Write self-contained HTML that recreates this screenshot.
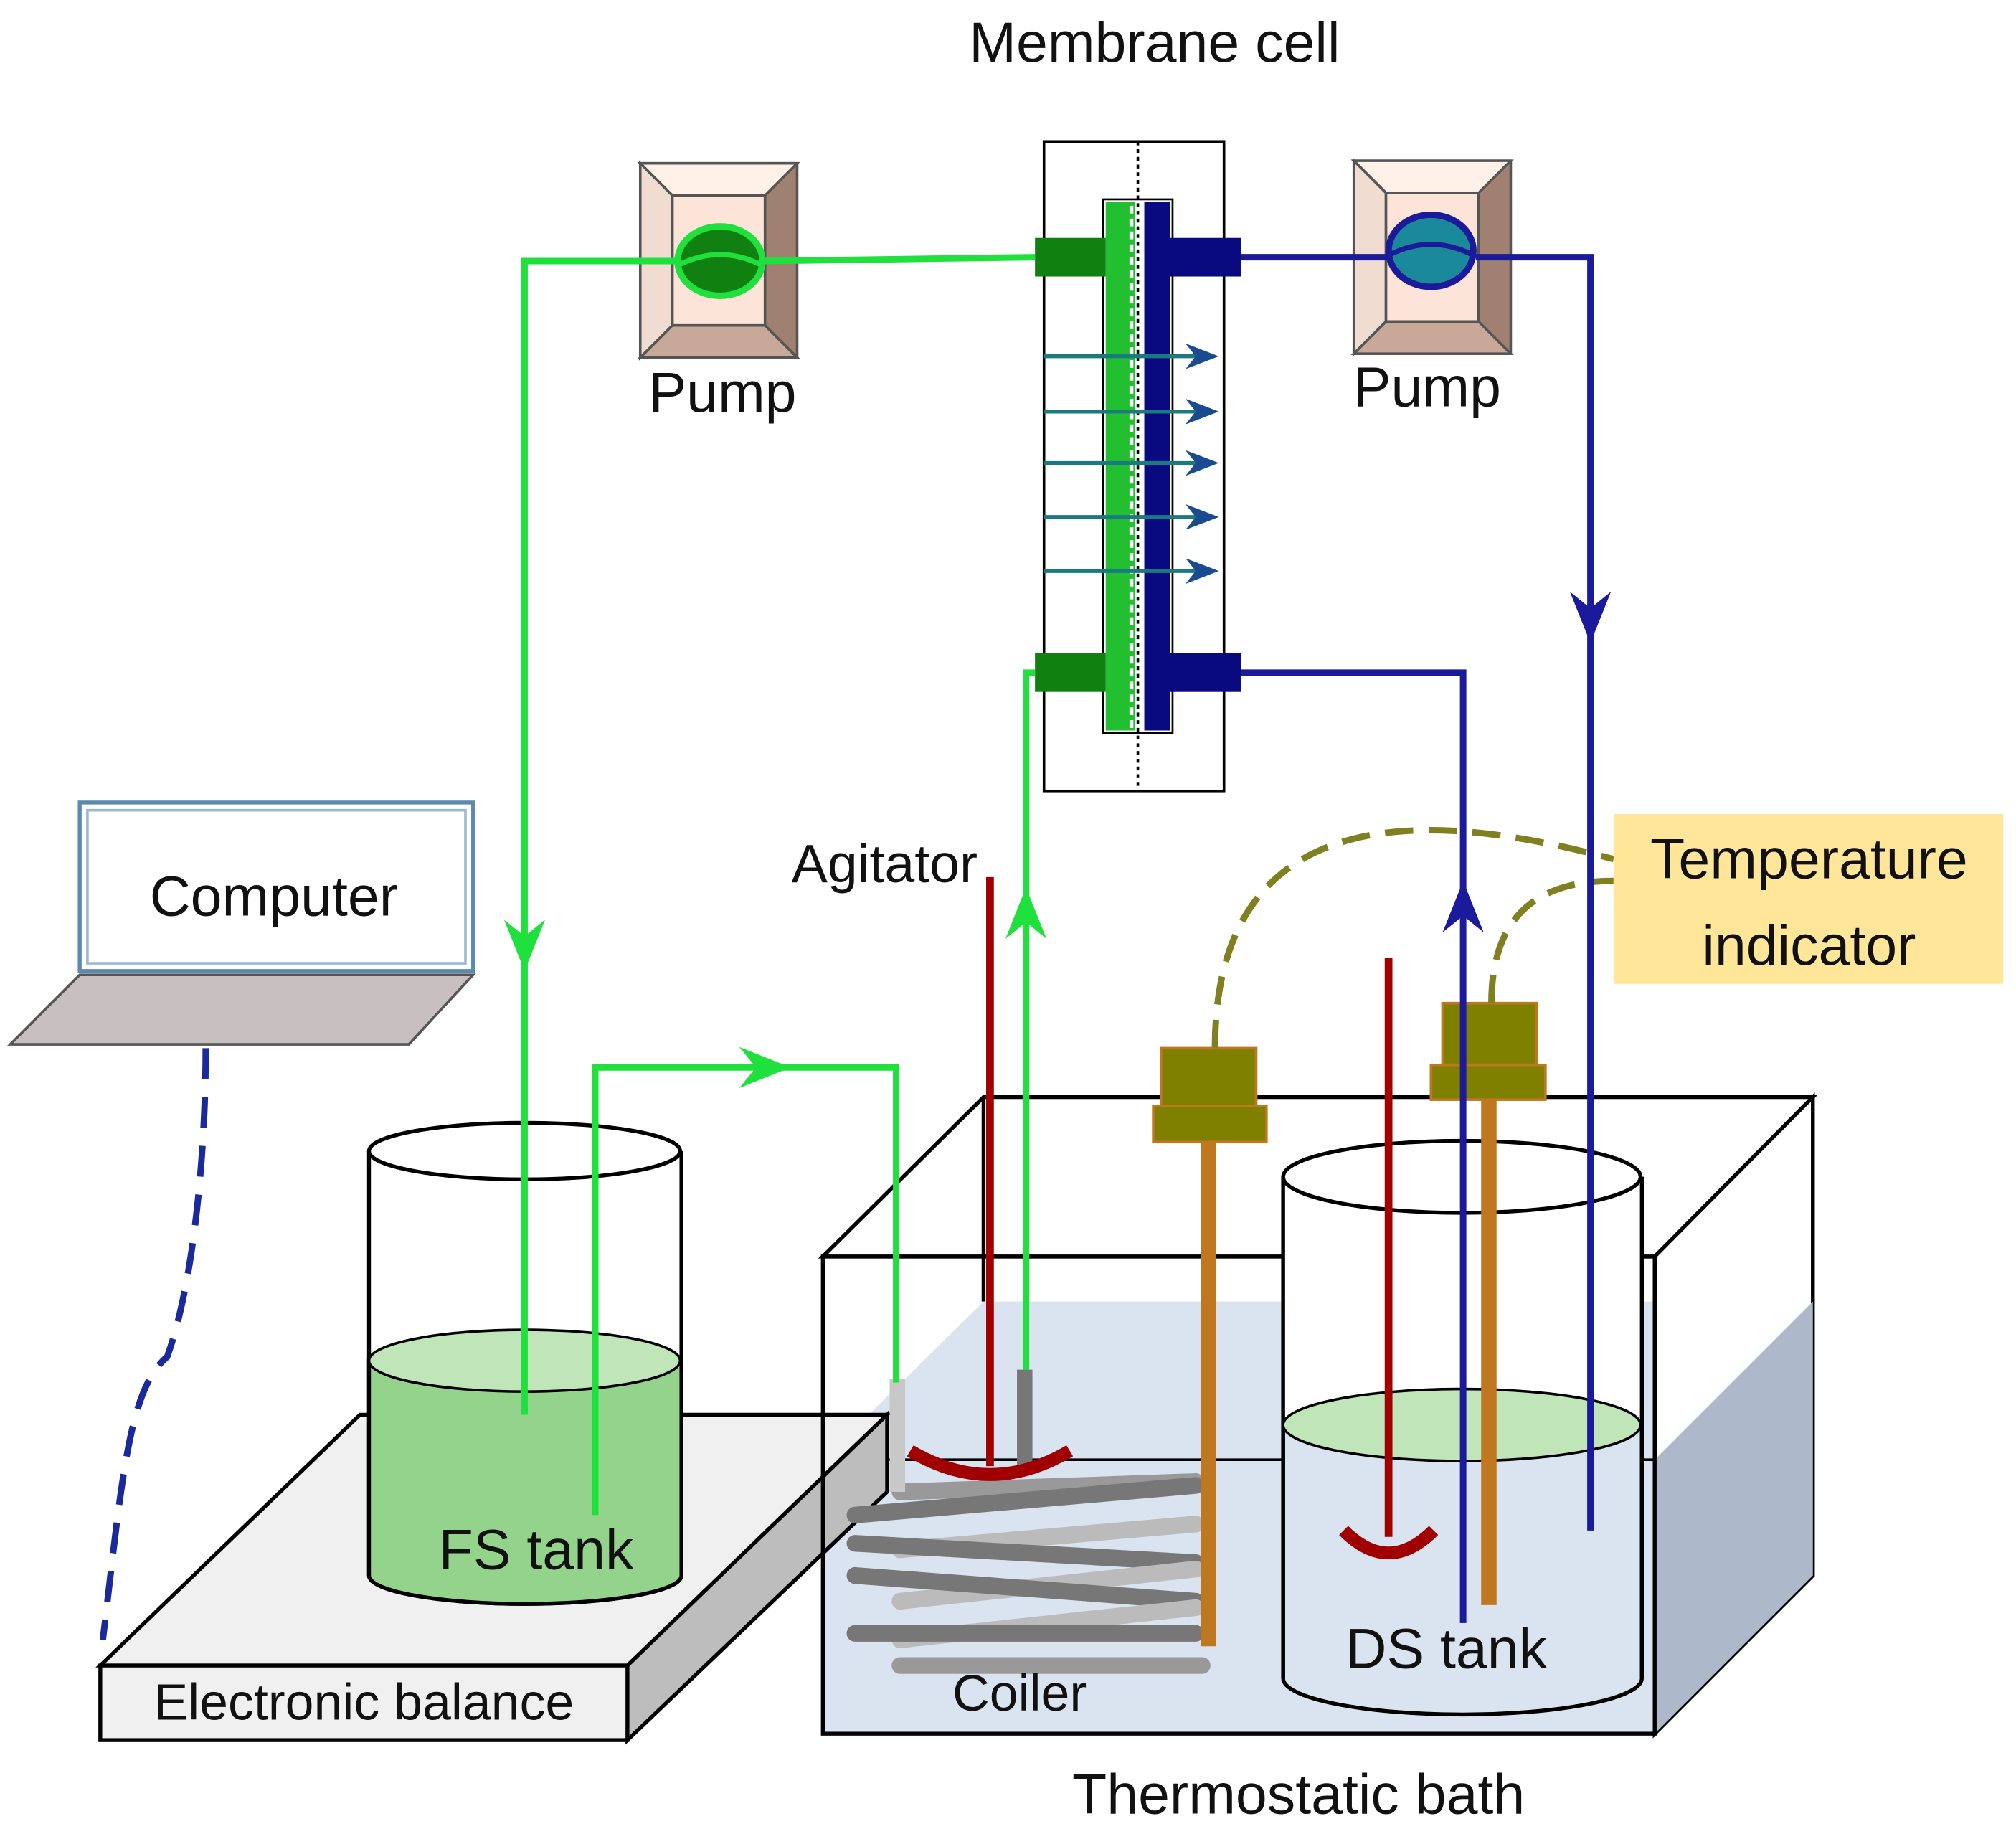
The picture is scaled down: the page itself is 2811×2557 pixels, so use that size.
<!DOCTYPE html>
<html><head><meta charset="utf-8"><style>html,body{margin:0;padding:0;background:#fff}svg{display:block}text{font-family:"Liberation Sans",sans-serif;fill:#111}</style></head><body>
<svg width="2811" height="2557" viewBox="0 0 1568 1426" preserveAspectRatio="none" xmlns="http://www.w3.org/2000/svg">
<defs>
<marker id="ag" viewBox="0 0 10 10" refX="5" refY="5" markerWidth="8" markerHeight="8" orient="auto"><path d="M0,0 L10,5 L0,10 L3,5 z" fill="#1fe03c"/></marker>
</defs>
<text x="898" y="48" font-size="44" text-anchor="middle">Membrane cell</text>

<!-- Bath back/top -->
<polygon points="640,977 765,853 1410,853 1287,977" fill="#fff" stroke="#000" stroke-width="3"/>
<line x1="765" y1="853" x2="765" y2="1012" stroke="#000" stroke-width="3"/>
<!-- water surface -->
<polygon points="640,1135 765,1012 1410,1012 1287,1135" fill="#dae3f0"/>
<rect x="640" y="1135" width="647" height="213" fill="#dae3f0"/>
<polygon points="1287,977 1410,853 1410,1225 1287,1348" fill="#fff" stroke="#000" stroke-width="3"/>
<polygon points="1287,1135 1410,1012 1410,1225 1287,1348" fill="#adb9ca"/>
<line x1="640" y1="1135" x2="1287" y2="1135" stroke="#000" stroke-width="2"/>

<!-- Balance -->
<polygon points="78,1295 280,1100 690,1100 488,1295" fill="#f0f0f0" stroke="#000" stroke-width="3"/>
<polygon points="488,1295 690,1100 690,1160 488,1353" fill="#bdbdbd" stroke="#000" stroke-width="3"/>
<rect x="78" y="1295" width="410" height="58" fill="#f0f0f0" stroke="#000" stroke-width="3"/>
<text x="283" y="1337" font-size="40" text-anchor="middle">Electronic balance</text>

<!-- FS tank -->
<path d="M287,895 V1225 A121,22 0 0 0 530,1225 V895" fill="#fff" stroke="#000" stroke-width="3"/>
<path d="M287,1058 V1225 A121,22 0 0 0 530,1225 V1058 Z" fill="#93d38b" stroke="#000" stroke-width="3"/>
<ellipse cx="408" cy="1058" rx="121" ry="24" fill="#bfe5b8" stroke="#000" stroke-width="2"/>
<ellipse cx="408" cy="895" rx="121" ry="22" fill="#fff" stroke="#000" stroke-width="3"/>
<text x="417" y="1220" font-size="44" text-anchor="middle">FS tank</text>

<!-- bath front frame -->
<rect x="640" y="977" width="647" height="371" fill="none" stroke="#000" stroke-width="3"/>

<!-- DS tank -->
<path d="M998,915 V1305 A139,28 0 0 0 1277,1305 V915" fill="#dae3f0" stroke="#000" stroke-width="3"/>
<rect x="998" y="915" width="279" height="193" fill="#fff"/>
<line x1="998" y1="915" x2="998" y2="1305" stroke="#000" stroke-width="3"/>
<line x1="1277" y1="915" x2="1277" y2="1305" stroke="#000" stroke-width="3"/>
<ellipse cx="1137" cy="1108" rx="139" ry="28" fill="#bfe5b8" stroke="#000" stroke-width="2"/>
<ellipse cx="1137" cy="915" rx="139" ry="28" fill="#fff" stroke="#000" stroke-width="3"/>
<text x="1125" y="1297" font-size="44" text-anchor="middle">DS tank</text>

<!-- Coil -->
<g stroke-width="13" stroke-linecap="round" fill="none">
<path d="M700,1160 L930,1152" stroke="#999"/>
<path d="M665,1178 L930,1155" stroke="#777"/>
<path d="M700,1205 L930,1185" stroke="#bbb"/>
<path d="M665,1200 L930,1215" stroke="#777"/>
<path d="M700,1245 L930,1220" stroke="#bbb"/>
<path d="M665,1225 L930,1245" stroke="#777"/>
<path d="M700,1275 L930,1250" stroke="#bbb"/>
<path d="M665,1270 L930,1270" stroke="#777"/>
<path d="M700,1295 L935,1295" stroke="#999"/>
</g>
<line x1="698" y1="1072" x2="698" y2="1160" stroke="#c8c8c8" stroke-width="12"/>
<line x1="797" y1="1065" x2="797" y2="1145" stroke="#777" stroke-width="12"/>
<text x="793" y="1330" font-size="40" text-anchor="middle">Coiler</text>
<text x="1010" y="1410" font-size="44" text-anchor="middle">Thermostatic bath</text>

<!-- Agitators -->
<line x1="770" y1="682" x2="770" y2="1140" stroke="#a00000" stroke-width="6"/>
<path d="M708,1128 Q770,1165 832,1128" stroke="#a00000" stroke-width="10" fill="none"/>
<line x1="1080" y1="745" x2="1080" y2="1195" stroke="#a00000" stroke-width="6"/>
<path d="M1045,1190 Q1080,1225 1115,1190" stroke="#a00000" stroke-width="10" fill="none"/>
<text x="688" y="686" font-size="42" text-anchor="middle">Agitator</text>

<!-- Probes -->
<line x1="940" y1="888" x2="940" y2="1280" stroke="#c07820" stroke-width="12"/>
<rect x="903" y="815" width="74" height="45" fill="#808000" stroke="#c07820" stroke-width="2"/>
<rect x="897" y="860" width="88" height="28" fill="#808000" stroke="#c07820" stroke-width="2"/>
<line x1="1158" y1="855" x2="1158" y2="1248" stroke="#c07820" stroke-width="12"/>
<rect x="1122" y="780" width="73" height="48" fill="#808000" stroke="#c07820" stroke-width="2"/>
<rect x="1113" y="828" width="89" height="27" fill="#808000" stroke="#c07820" stroke-width="2"/>
<path d="M945,815 C945,600 1150,640 1255,668" stroke="#808020" stroke-width="5" stroke-dasharray="22,12" fill="none"/>
<path d="M1160,780 C1160,700 1210,685 1255,685" stroke="#808020" stroke-width="5" stroke-dasharray="22,12" fill="none"/>
<rect x="1255" y="633" width="303" height="132" fill="#ffe699"/>
<text x="1407" y="683" font-size="44" text-anchor="middle">Temperature</text>
<text x="1407" y="750" font-size="44" text-anchor="middle">indicator</text>

<!-- Membrane cell -->
<rect x="812" y="110" width="140" height="505" fill="#fff" stroke="#000" stroke-width="2"/>
<rect x="858" y="155" width="54" height="415" fill="#fff" stroke="#000" stroke-width="1.5"/>
<rect x="860" y="157" width="23" height="411" fill="#22c030"/>
<rect x="890" y="157" width="20" height="411" fill="#0a0a80"/>
<line x1="885" y1="110" x2="885" y2="615" stroke="#000" stroke-width="2" stroke-dasharray="3,3"/>
<line x1="880" y1="160" x2="880" y2="566" stroke="#fff" stroke-width="3" stroke-dasharray="6,4"/>
<rect x="805" y="185" width="55" height="30" fill="#108010"/>
<rect x="805" y="508" width="55" height="30" fill="#108010"/>
<rect x="908" y="185" width="57" height="30" fill="#0a0a80"/>
<rect x="908" y="508" width="57" height="30" fill="#0a0a80"/>
<g stroke="#1a7a80" stroke-width="3" fill="none">
<line x1="812" y1="277" x2="940" y2="277"/><line x1="812" y1="320" x2="940" y2="320"/><line x1="812" y1="360" x2="940" y2="360"/><line x1="812" y1="402" x2="940" y2="402"/><line x1="812" y1="444" x2="940" y2="444"/>
</g>
<g fill="#1a4a90">
<path d="M922,267 L948,277 L922,287 L930,277z"/><path d="M922,310 L948,320 L922,330 L930,320z"/><path d="M922,350 L948,360 L922,370 L930,360z"/><path d="M922,392 L948,402 L922,412 L930,402z"/><path d="M922,434 L948,444 L922,454 L930,444z"/>
</g>

<!-- Pumps -->
<g stroke="#555" stroke-width="2">
<rect x="498" y="127" width="122" height="151" fill="#a08070"/>
<polygon points="498,127 620,127 595,152 523,152" fill="#fff0e8"/>
<polygon points="498,127 523,152 523,253 498,278" fill="#f0dcd0"/>
<polygon points="498,278 523,253 595,253 620,278" fill="#c8a898"/>
<rect x="523" y="152" width="72" height="101" fill="#fde4d8"/>
<rect x="1053" y="125" width="122" height="150" fill="#a08070"/>
<polygon points="1053,125 1175,125 1150,150 1078,150" fill="#fff0e8"/>
<polygon points="1053,125 1078,150 1078,250 1053,275" fill="#f0dcd0"/>
<polygon points="1053,275 1078,250 1150,250 1175,275" fill="#c8a898"/>
<rect x="1078" y="150" width="72" height="100" fill="#fde4d8"/>
</g>
<text x="562" y="320" font-size="44" text-anchor="middle">Pump</text>
<text x="1110" y="316" font-size="44" text-anchor="middle">Pump</text>

<!-- Green lines -->
<g stroke="#1fe03c" stroke-width="5" fill="none">
<polyline points="408,1100 408,203 530,203"/>
<line x1="592" y1="203" x2="805" y2="200"/>
<polyline points="463,1178 463,830 697,830 697,1075"/>
<polyline points="805,523 798,523 798,1065"/>
</g>
<path d="M392,715 L408,755 L424,715 L408,728z" fill="#1fe03c"/>
<path d="M575,814 L615,830 L575,846 L588,830z" fill="#1fe03c"/>
<path d="M782,730 L798,690 L814,730 L798,717z" fill="#1fe03c"/>
<ellipse cx="560" cy="203" rx="33" ry="27" fill="#108010" stroke="#1fe03c" stroke-width="5"/>
<path d="M528,206 Q560,190 592,206" stroke="#1fe03c" stroke-width="4" fill="none"/>

<!-- Navy lines -->
<g stroke="#1a1a9a" stroke-width="5" fill="none">
<line x1="965" y1="200" x2="1080" y2="200"/>
<polyline points="1148,200 1237,200 1237,1190"/>
<polyline points="965,523 1138,523 1138,1262"/>
</g>
<path d="M1221,460 L1237,500 L1253,460 L1237,473z" fill="#1a1a9a"/>
<path d="M1122,725 L1138,685 L1154,725 L1138,712z" fill="#1a1a9a"/>
<ellipse cx="1113" cy="195" rx="33" ry="28" fill="#1a8a9a" stroke="#1a1a9a" stroke-width="5"/>
<path d="M1081,198 Q1113,182 1145,198" stroke="#1a1a9a" stroke-width="4" fill="none"/>

<!-- Computer -->
<rect x="62" y="624" width="306" height="131" fill="#fff" stroke="#5a8ab0" stroke-width="3"/>
<rect x="68" y="630" width="294" height="119" fill="none" stroke="#9ab8d0" stroke-width="2"/>
<text x="213" y="712" font-size="44" text-anchor="middle">Computer</text>
<polygon points="62,758 368,758 318,812 8,812" fill="#c8c0c0" stroke="#555" stroke-width="2"/>
<path d="M160,815 C160,900 150,1000 130,1055 C100,1080 95,1150 80,1275" stroke="#1a2a9a" stroke-width="5" stroke-dasharray="24,14" fill="none"/>
</svg>
</body></html>
